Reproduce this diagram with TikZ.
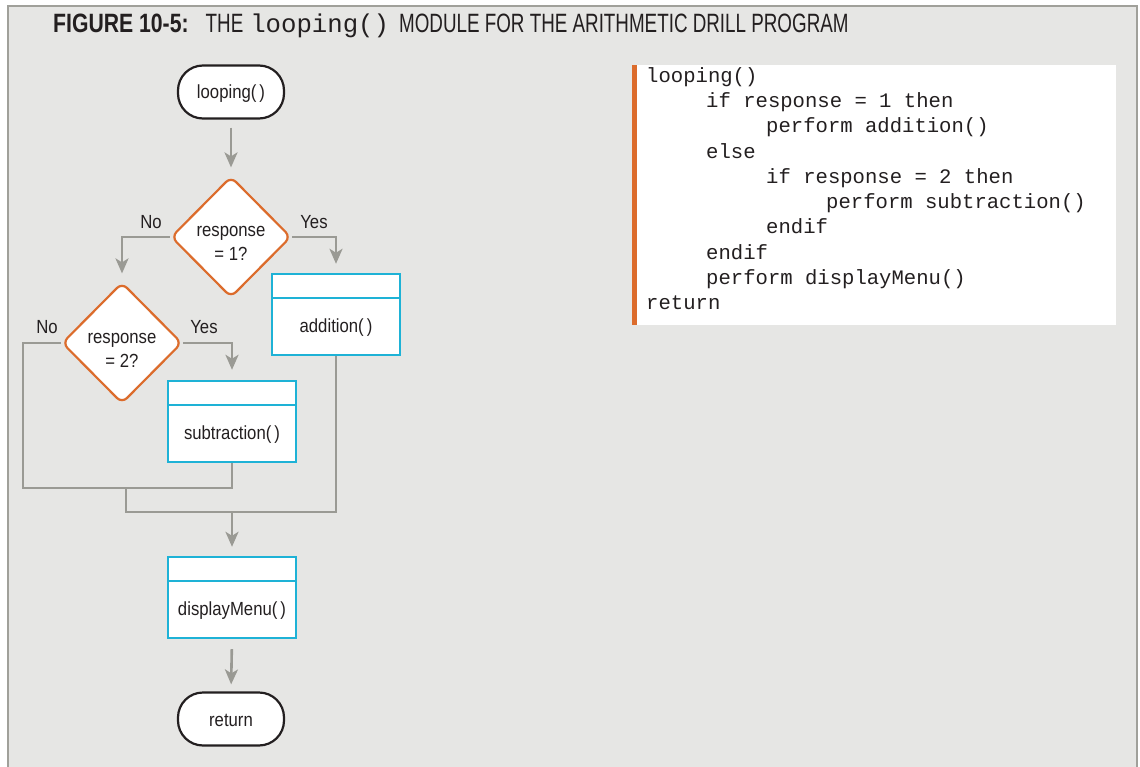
\documentclass[tikz,border=0pt]{standalone}
\usepackage{fontspec}
\setmainfont{Liberation Sans}
\newfontfamily\chartfont[FakeStretch=0.88]{Liberation Sans}
\newfontfamily\titlebold[FakeStretch=0.8]{Liberation Sans Bold}
\newfontfamily\titlelight[FakeStretch=0.71]{Liberation Sans}
\newfontfamily\codefont{Liberation Mono}
\usetikzlibrary{shapes.geometric, arrows.meta, positioning}

\definecolor{bggray}{RGB}{230,230,228}
\definecolor{framegray}{RGB}{160,160,154}
\definecolor{linegray}{RGB}{154,154,148}
\definecolor{decorange}{RGB}{220,108,44}
\definecolor{modcyan}{RGB}{30,178,214}
\definecolor{inkdark}{RGB}{35,31,32}

\begin{document}
\begin{tikzpicture}[
x=1pt, y=-1pt,
every node/.style={align=center, text=inkdark, font=\chartfont\fontsize{19}{24}\selectfont},
terminal/.style={rectangle, rounded corners=25pt, draw=inkdark, line width=2.2pt, fill=white, minimum width=106pt, minimum height=53pt},
decision/.style={diamond, draw=decorange, line width=2.2pt, rounded corners=7pt, fill=white, minimum width=120pt, minimum height=121pt, inner sep=0pt},
module/.style={rectangle, draw=modcyan, line width=2.4pt, fill=white, minimum width=128pt, minimum height=81pt, text height=36pt, text depth=0pt,
  path picture={\draw[modcyan, line width=2.4pt] ([yshift=-24pt]path picture bounding box.north west) -- ([yshift=-24pt]path picture bounding box.north east);}},
line/.style={draw=linegray, line width=2.6pt},
flow/.style={line, -{Stealth[length=15pt, width=13pt, inset=4pt]}}
]

% FONDO Y MARCO
\useasboundingbox (0,0) rectangle (1140,767);
\fill[white] (0,0) rectangle (1140,767);
\fill[bggray] (8,6) rectangle (1137,767);
\draw[framegray, line width=2pt] (8,767) -- (8,6) -- (1137,6) -- (1137,767);

% TITULO
\node (title) [anchor=base west, inner sep=0pt] at (53,33)
  {{\titlebold\fontsize{26.5}{26.5}\selectfont FIGURE 10-5:}\hspace{17pt}{\titlelight\fontsize{26.5}{26.5}\selectfont THE}\hspace{7pt}{\codefont\fontsize{25.7}{26}\selectfont looping()}\hspace{10pt}{\titlelight\fontsize{26.5}{26.5}\selectfont MODULE FOR THE ARITHMETIC DRILL PROGRAM}};

% DIAGRAMA
\node (start) [terminal] at (231,92) {\rule{0pt}{16pt}looping(\hspace{3pt})};
\node (resp1) [decision] at (231,237) {\rule{0pt}{24pt}response\\= 1?};
\node (addition) [module] at (336,314.5) {addition(\hspace{3pt})};
\node (resp2) [decision] at (122,343) {\rule{0pt}{24pt}response\\= 2?};
\node (subtraction) [module] at (232,421.5) {subtraction(\hspace{3pt})};
\node (displayMenu) [module] at (232,597.5) {displayMenu(\hspace{3pt})};
\node (return) [terminal] at (231,719) {\rule{0pt}{16pt}return};

% ETIQUETAS
\node (no1) at (151,222) {No};
\node (yes1) at (314,222) {Yes};
\node (no2) at (47,327) {No};
\node (yes2) at (204,327) {Yes};

% PUNTOS DE UNION
\coordinate (loopL) at (23,488);
\coordinate (joinA) at (126,488);
\coordinate (joinB) at (126,512);
\coordinate (joinC) at (232,512);

% FLECHAS
\draw[flow, shorten <=8pt, shorten >=8pt] (start.south) -- (resp1.north);
\draw[flow, shorten >=9pt] (resp1.east) -| (addition.north);
\draw[flow, shorten >=8pt] (resp1.west) -| (resp2.north);
\draw[flow, shorten >=10pt] (resp2.east) -| (subtraction.north);
\draw[line] (resp2.west) -| (loopL) -| (subtraction.south);
\draw[line] (joinA) -- (joinB) -| (addition.south);
\draw[flow, shorten >=9pt] (joinC) -- (displayMenu.north);
\draw[flow, shorten <=10pt, shorten >=7pt] (displayMenu.south) -- (return.north);

% PSEUDOCODIGO
\node (codebox) [anchor=north west, fill=white, minimum width=479pt, minimum height=260pt, inner sep=0pt] at (637,65) {};
\fill[decorange] (632,65) rectangle (637,325);
\node (code) [anchor=north west, align=left, inner sep=0pt, font=\codefont\fontsize{20.6}{25.3}\selectfont] at (646,67) {%
looping()\\
\hspace*{60pt}if response = 1 then\\
\hspace*{120pt}perform addition()\\
\hspace*{60pt}else\\
\hspace*{120pt}if response = 2 then\\
\hspace*{180pt}perform subtraction()\\
\hspace*{120pt}endif\\
\hspace*{60pt}endif\\
\hspace*{60pt}perform displayMenu()\\
return};

\end{tikzpicture}
\end{document}
